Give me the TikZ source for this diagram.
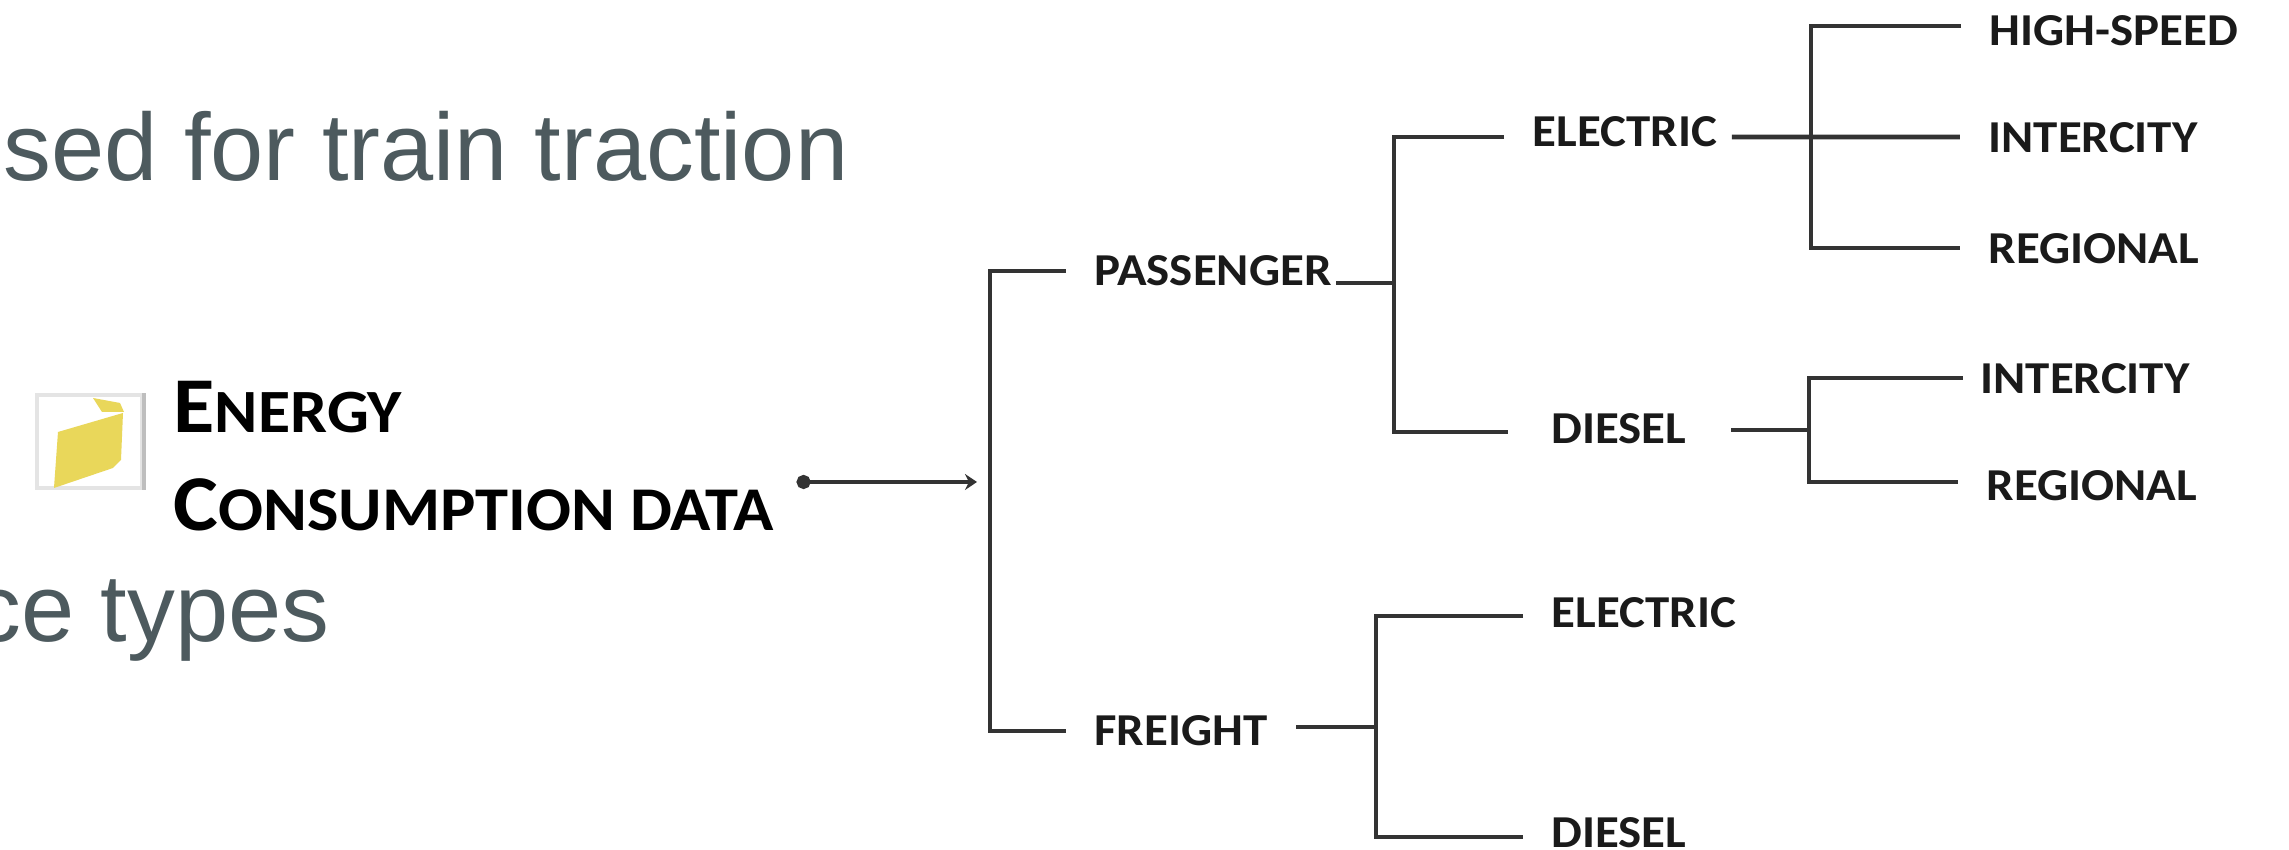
\documentclass[tikz,border=0pt]{standalone}
\usepackage{fontspec}
\setmainfont[FakeStretch=1.07]{Carlito}
\newfontfamily\slidefont{Liberation Sans}
\usetikzlibrary{arrows.meta}
\definecolor{SlideGrey}{RGB}{77,90,94}
\definecolor{Ink}{RGB}{26,26,26}
\definecolor{Wire}{RGB}{51,51,51}
\definecolor{IconGold}{RGB}{233,215,90}
\definecolor{IconEdge}{RGB}{228,228,228}
\definecolor{IconSide}{RGB}{190,190,190}

\begin{document}
\begin{tikzpicture}[
    slide/.style={font=\slidefont\fontsize{27.2pt}{32pt}\selectfont,text=SlideGrey,inner sep=0pt},
    leaf/.style={font=\bfseries\fontsize{13pt}{15pt}\selectfont,text=Ink,inner ysep=0pt,inner xsep=0.28cm},
    link/.style={draw=Wire,line width=1.35pt},
    feed/.style={{Circle[length=1.4mm,width=1.4mm]}-{Stealth[length=1.2mm,width=1.6mm]},draw=Wire,line width=1.4pt}
]
\useasboundingbox (0,0) rectangle (22.89,8.5);

% Slide text behind the figure
\node[slide,anchor=base east] (title) at (8.49,6.69) {sed for train traction};
\node[slide,anchor=base east] (types) at (3.30,2.08) {ce types};

% Icon
\node[draw=IconEdge,fill=white,line width=1pt,minimum width=1.05cm,minimum height=0.93cm,inner sep=0pt] (icon) at (0.895,4.085) {};
\draw[IconSide,line width=1pt] (icon.north east) -- (icon.south east);
\fill[IconGold] (0.58,4.18) -- (1.23,4.37) -- (1.21,3.90) -- (1.13,3.82) -- (0.54,3.62) -- cycle;
\fill[IconGold] (0.93,4.52) -- (1.20,4.47) -- (1.24,4.38) -- (1.02,4.38) -- cycle;

% Root
\node[anchor=west,align=left,text=black,font=\bfseries,inner xsep=0.22cm,inner ysep=0pt] (energy) at (1.51,3.94)
    {{\fontsize{22.5pt}{24pt}\selectfont E}{\fontsize{17.5pt}{24pt}\selectfont NERGY}\\[0.42cm]
     {\fontsize{22.5pt}{24pt}\selectfont C}{\fontsize{17.7pt}{24pt}\selectfont ONSUMPTION DATA}};
\coordinate (trunk) at (9.90,3.68);
\draw[feed,shorten >=0.13cm] (energy.east |- trunk) -- (trunk);

% Passenger and freight
\node[leaf] (passenger) at (12.13,5.79) {PASSENGER};
\node[leaf] (freight) at (11.81,1.19) {FREIGHT};
\draw[link] (passenger.west) -| (trunk) |- (freight.west);

% Passenger branch
\node[leaf] (elec) at (16.25,7.18) {ELECTRIC};
\node[leaf] (diesel) at (16.19,4.21) {DIESEL};
\coordinate (pass-jn) at (13.94,5.67);
\draw[link] ([xshift=-0.24cm]passenger.east |- pass-jn) -- (pass-jn);
\draw[link] ([yshift=-0.05cm]elec.west) -| (pass-jn) |- ([xshift=-0.15cm,yshift=-0.03cm]diesel.west);

% Electric passenger services
\node[leaf] (high) at (21.14,8.19) {HIGH-SPEED};
\node[leaf] (inter) at (20.93,7.12) {INTERCITY};
\node[leaf] (regional) at (20.94,6.01) {REGIONAL};
\coordinate (elec-jn) at (18.11,7.13);
\draw[link] ([xshift=-0.14cm]elec.east |- elec-jn) -- ([yshift=0.01cm]inter.west);
\draw[link] ([yshift=0.05cm]high.west) -| (elec-jn) |- ([yshift=0.01cm]regional.west);

% Diesel passenger services
\node[leaf] (inter2) at (20.85,4.71) {INTERCITY};
\node[leaf] (regional2) at (20.92,3.64) {REGIONAL};
\coordinate (diesel-jn) at (18.09,4.20);
\draw[link] ([xshift=0.16cm]diesel.east |- diesel-jn) -- (diesel-jn);
\draw[link] ([xshift=0.11cm,yshift=0.01cm]inter2.west) -| (diesel-jn) |- ([yshift=0.04cm]regional2.west);

% Freight branch
\node[leaf] (elec3) at (16.44,2.37) {ELECTRIC};
\node[leaf] (diesel3) at (16.19,0.17) {DIESEL};
\coordinate (freight-jn) at (13.76,1.23);
\draw[link] (freight.east |- freight-jn) -- (freight-jn);
\draw[link] ([yshift=-0.03cm]elec3.west) -| (freight-jn) |- ([yshift=-0.04cm]diesel3.west);

\end{tikzpicture}
\end{document}
